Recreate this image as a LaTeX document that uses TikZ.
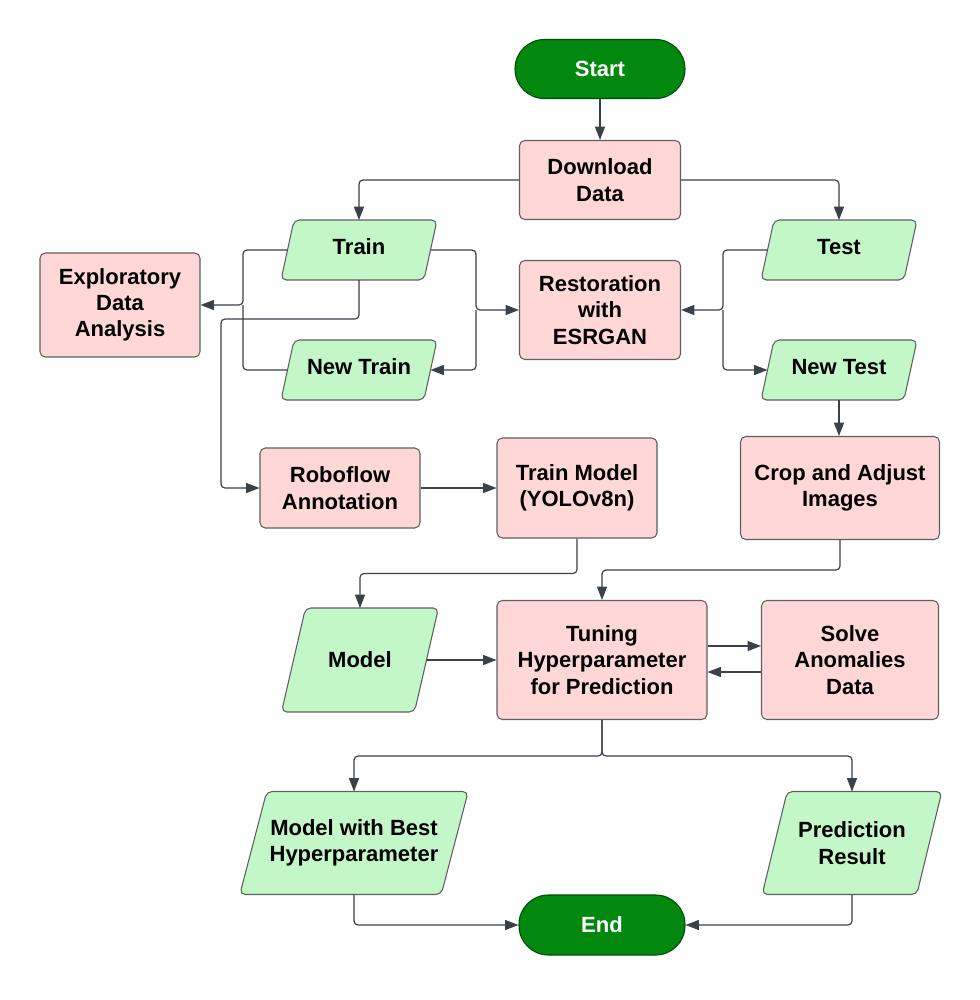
\documentclass[tikz,border=0pt]{standalone}
\usepackage{fontspec}
\setmainfont{Liberation Sans}
\usetikzlibrary{arrows.meta,backgrounds,calc}
\definecolor{pinkf}{HTML}{FFD7D7}
\definecolor{greenf}{HTML}{C3F7C8}
\definecolor{darkg}{HTML}{02880F}
\definecolor{edgec}{HTML}{5F5F5F}
\definecolor{connc}{HTML}{3B4149}
\newcommand\drawpgram[2]{\path[pgram] ([xshift=#2]#1.north west) -- ([xshift=#2]#1.north east) -- ([xshift=-#2]#1.south east) -- ([xshift=-#2]#1.south west) -- cycle;}
\begin{document}
\begin{tikzpicture}[x=0.75pt,y=-0.75pt,
 txt/.style={font=\fontsize{16.5}{19.7}\selectfont\bfseries, align=center, inner sep=0pt},
 proc/.style={txt, draw=edgec, fill=pinkf, rounded corners=4pt, line width=0.8pt},
 term/.style={txt, draw=darkg!55!black, fill=darkg, text=white, rounded corners=22pt, line width=0.8pt},
 iobox/.style={txt, outer sep=0pt},
 upline/.style={text height=12pt, text depth=6pt},
 pgram/.style={draw=edgec, fill=greenf, rounded corners=4pt, line width=0.8pt},
 conn/.style={draw=connc, line width=0.9pt, rounded corners=3pt, -{Triangle[length=10pt,width=7.5pt]}},
 link/.style={draw=connc, line width=0.9pt, rounded corners=3pt}]
\useasboundingbox (0,0) rectangle (979,1000);
% nodes
\node[term, minimum width=127.5pt, minimum height=44.25pt] (start) at (600,69) {Start};
\node[proc, minimum width=120.75pt, minimum height=59.25pt] (download) at (600,180) {Download\\Data};
\node[iobox, upline, minimum width=107.25pt, minimum height=45pt] (train) at (359,250) {Train};
\node[iobox, upline, minimum width=107.25pt, minimum height=45pt] (newtrain) at (359,370) {New Train};
\node[iobox, upline, minimum width=107.25pt, minimum height=45pt] (test) at (839,250) {Test};
\node[iobox, upline, minimum width=107.25pt, minimum height=45pt] (newtest) at (839,370) {New Test};
\node[proc, minimum width=120pt, minimum height=78pt] (eda) at (120,305) {Exploratory\\Data\\Analysis};
\node[proc, minimum width=120.75pt, minimum height=74.25pt] (rest) at (600,310) {Restoration\\with\\ESRGAN};
\node[proc, minimum width=120pt, minimum height=60pt] (robo) at (340,488) {Roboflow\\Annotation};
\node[proc, minimum width=120pt, minimum height=75pt] (tmodel) at (577,488) {Train Model\\(YOLOv8n)};
\node[proc, minimum width=149.25pt, minimum height=77.25pt] (crop) at (840,488) {Crop and Adjust\\Images};
\node[iobox, minimum width=99.75pt, minimum height=78pt] (model) at (360,660) {Model};
\node[proc, minimum width=157.5pt, minimum height=89.25pt] (tune) at (602,660) {Tuning\\Hyperparameter\\for Prediction};
\node[proc, minimum width=132.75pt, minimum height=89.25pt] (solve) at (850,660) {Solve\\Anomalies\\Data};
\node[iobox, minimum width=151.1pt, minimum height=77.25pt] (best) at (354,843) {Model with Best\\Hyperparameter};
\node[iobox, minimum width=116pt, minimum height=77.25pt] (pred) at (852,843) {Prediction\\Result};
\node[term, minimum width=124.5pt, minimum height=45pt] (end) at (602,925) {End};
% parallelogram outlines
\begin{pgfonlayer}{background}
\drawpgram{train}{4.9pt}
\drawpgram{newtrain}{4.9pt}
\drawpgram{test}{4.9pt}
\drawpgram{newtest}{4.9pt}
\drawpgram{model}{9pt}
\drawpgram{best}{10.1pt}
\drawpgram{pred}{9.4pt}
\end{pgfonlayer}
% junctions
\coordinate (jl) at (243,305);
\coordinate (jr) at (476,310);
\coordinate (jt) at (723,310);
% connectors
\draw[conn] (start.south) -- (download.north);
\draw[conn] (download.west) -| (train.north);
\draw[conn] (download.east) -| (test.north);
\draw[conn] (train.west) -| (jl) -- (eda.east);
\draw[link] (newtrain.west) -| (jl);
\draw[conn] (train.east) -| (jr) -- (rest.west);
\draw[conn] (jr) |- (newtrain.east);
\draw[conn] (train.south) |- (221,319) |- (robo.west);
\draw[conn] (test.west) -| (jt) -- (rest.east);
\draw[conn] (jt) |- (newtest.west);
\draw[conn] (newtest.south) -- (newtest.south |- crop.north);
\draw[conn] (robo.east) -- (tmodel.west);
\draw[conn] (tmodel.south) -- ++(0,35) -| (model.north);
\draw[conn] (crop.south) -- ++(0,30) -| (tune.north);
\draw[conn] (model.east) -- (tune.west);
\draw[conn] ([yshift=10.5pt]tune.east) -- ([yshift=10.5pt]solve.west);
\draw[conn] ([yshift=-9pt]solve.west) -- ([yshift=-9pt]tune.east);
\draw[conn] (tune.south) -- ++(0,36) -| (best.north);
\draw[conn] (tune.south) -- ++(0,36) -| (pred.north);
\draw[conn] (best.south) |- (end.west);
\draw[conn] (pred.south) |- (end.east);
\end{tikzpicture}
\end{document}
